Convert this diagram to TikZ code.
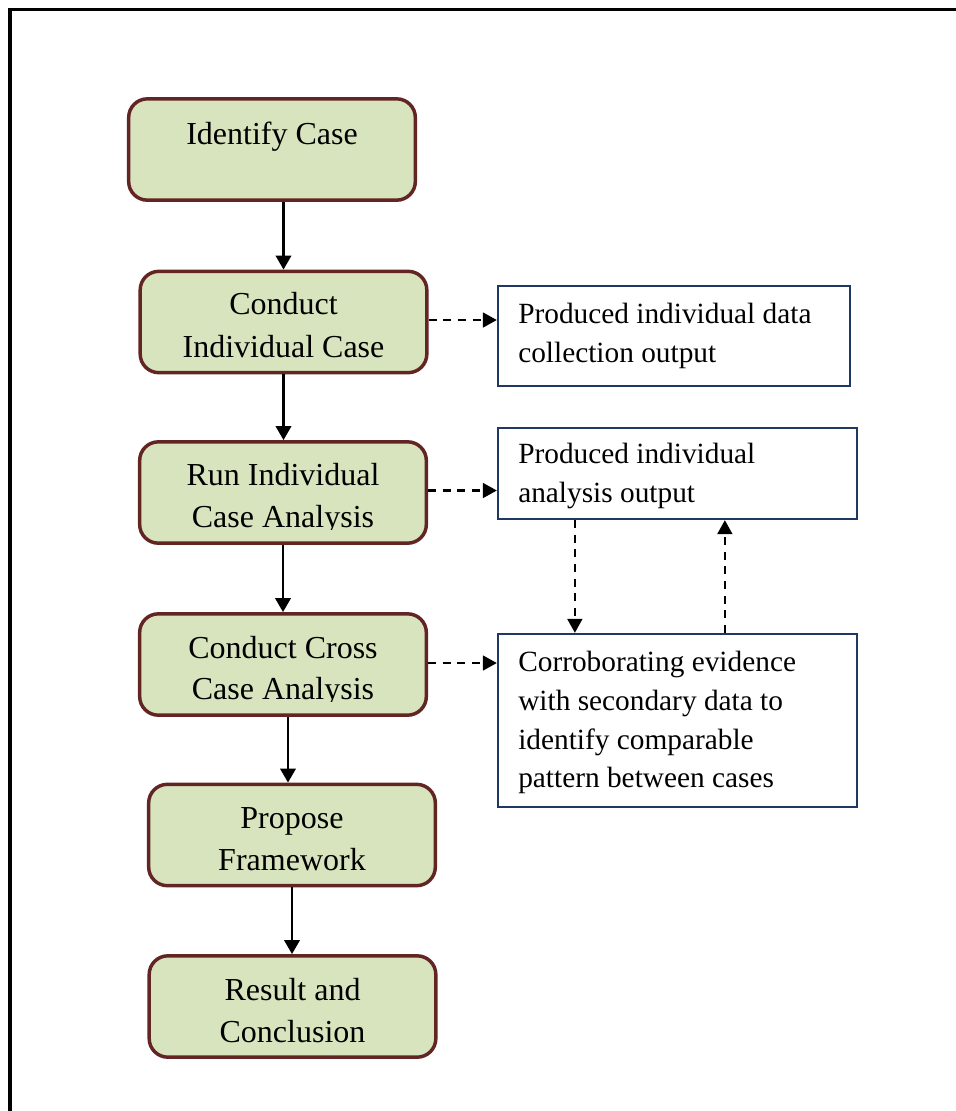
\documentclass[tikz,border=0pt]{standalone}
\usepackage{fontspec}
\setmainfont{Liberation Serif}
\usetikzlibrary{arrows.meta,calc}
\definecolor{stagefill}{HTML}{D7E4BD}
\definecolor{stageedge}{HTML}{632523}
\definecolor{noteedge}{HTML}{1F3864}
\begin{document}
\begin{tikzpicture}[x=0.75pt,y=-0.75pt,
  stage/.style={draw=stageedge, line width=2.6pt, fill=stagefill,
    rounded corners=14pt, inner sep=0pt,
    minimum width=215pt, minimum height=76pt},
  note/.style={draw=noteedge, line width=1.7pt, fill=white, inner sep=0pt},
  stagetext/.style={anchor=base, inner sep=0pt, font=\fontsize{24}{28}\selectfont},
  notetext/.style={anchor=base west, inner sep=0pt, font=\fontsize{22}{26}\selectfont},
  flow/.style={line width=2pt, -{Triangle[length=10.5pt,width=11.5pt]}},
  link/.style={line width=2pt, dash pattern=on 6pt off 5pt,
    -{Triangle[length=10.5pt,width=11pt]}}]

\useasboundingbox (0,0) rectangle (956,1111);

% outer frame (runs past the right and bottom edges)
\draw[line width=2.8pt] (10,9.5) rectangle (1100,1300);

% process stages
\node[stage] (b1) at (272,149.5) {};
\node[stage] (b2) at (283.5,322) {};
\node[stage] (b3) at (283,492.5) {};
\node[stage] (b4) at (283,664.5) {};
\node[stage] (b5) at (292,835) {};
\node[stage] (b6) at (292.5,1006.5) {};

% output notes
\node[note, minimum width=264pt, minimum height=75pt] (nA) at (674,336) {};
\node[note, minimum width=269.25pt, minimum height=68.25pt] (nB) at (677.5,473.5) {};
\node[note, minimum width=269.25pt, minimum height=129.75pt] (nC) at (677.5,720.5) {};

% stage labels, clipped to the text area of each box
\begin{scope}
  \clip (b1.north west) rectangle ($(b1.south east)+(0,-15)$);
  \node[stagetext] (t1) at (272,144) {Identify Case};
\end{scope}
\begin{scope}
  \clip (b2.north west) rectangle ($(b2.south east)+(0,-15)$);
  \node[stagetext] (t2a) at (283.5,314) {Conduct};
  \node[stagetext] (t2b) at (283.5,357) {Individual Case};
\end{scope}
\begin{scope}
  \clip (b3.north west) rectangle ($(b3.south east)+(0,-15)$);
  \node[stagetext] (t3a) at (283,485) {Run Individual};
  \node[stagetext] (t3b) at (283,527) {Case Analysis};
\end{scope}
\begin{scope}
  \clip (b4.north west) rectangle ($(b4.south east)+(0,-15)$);
  \node[stagetext] (t4a) at (283,658) {Conduct Cross};
  \node[stagetext] (t4b) at (283,699) {Case Analysis};
\end{scope}
\begin{scope}
  \clip (b5.north west) rectangle ($(b5.south east)+(0,-15)$);
  \node[stagetext] (t5a) at (292,828) {Propose};
  \node[stagetext] (t5b) at (292,870) {Framework};
\end{scope}
\begin{scope}
  \clip (b6.north west) rectangle ($(b6.south east)+(0,-15)$);
  \node[stagetext] (t6a) at (292.5,1000) {Result and};
  \node[stagetext] (t6b) at (292.5,1042) {Conclusion};
\end{scope}

% note texts
\node[notetext] (nA1) at (518,323) {Produced individual data};
\node[notetext] (nA2) at (518,362) {collection output};
\node[notetext] (nB1) at (518,463) {Produced individual};
\node[notetext] (nB2) at (518,502) {analysis output};
\node[notetext] (nC1) at (518,671) {Corroborating evidence};
\node[notetext] (nC2) at (518,710) {with secondary data to};
\node[notetext] (nC3) at (518,749) {identify comparable};
\node[notetext] (nC4) at (518,787) {pattern between cases};

% main flow
\draw[flow] (b1.south -| b2.north) -- (b2.north);
\draw[flow] (b2.south) -- (b2.south |- b3.north);
\draw[flow] (b3.south) -- (b3.south |- b4.north);
\coordinate (k4) at ($(b4.south)+(5,0)$);
\draw[flow] (k4) -- (k4 |- b5.north);
\draw[flow] (b5.south) -- (b5.south |- b6.north);

% outputs of the stages
\draw[link] ($(b2.east)+(0,-2)$) -- ($(b2.east -| nA.west)+(0,-2)$);
\draw[link] ($(b3.east)+(0,-2)$) -- ($(b3.east -| nB.west)+(0,-2)$);
\draw[link] ($(b4.east)+(0,-1.5)$) -- ($(b4.east -| nC.west)+(0,-1.5)$);

% exchange between analysis output and corroboration
\coordinate (d1) at ($(nB.south west)+(78,0)$);
\draw[link] (d1) -- (d1 |- nC.north);
\coordinate (u1) at ($(nC.north west)+(228,0)$);
\draw[link] (u1) -- (u1 |- nB.south);

\end{tikzpicture}
\end{document}
